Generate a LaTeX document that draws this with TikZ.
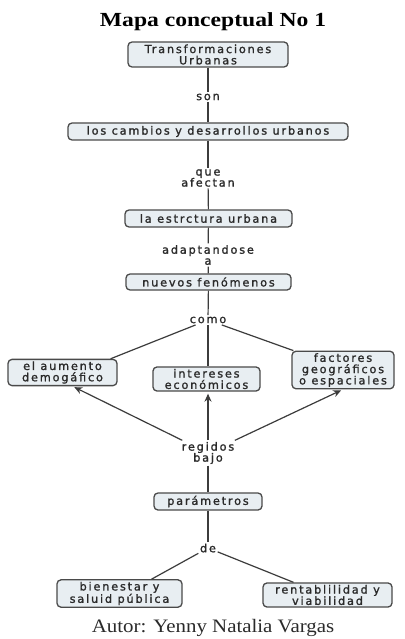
\documentclass[tikz,border=0pt]{standalone}
\usepackage{fontspec}
\usetikzlibrary{arrows.meta}
\newfontfamily\cmfont{DejaVu Sans}[LetterSpace=16,FakeBold=1.3]
\newfontfamily\titlefont{Liberation Serif}[FakeStretch=1.18]
\newfontfamily\autorfont{Liberation Serif}[FakeStretch=1.1]
\definecolor{boxfill}{HTML}{E8EEF2}
\definecolor{boxline}{HTML}{4A4A4A}
\definecolor{linkc}{HTML}{3C3C3C}
\definecolor{txt}{HTML}{2A2A2A}
\begin{document}
\begin{tikzpicture}[x=1pt,y=-1pt,
  concept/.style={draw=boxline, fill=boxfill, rounded corners=4pt, line width=1.3pt,
    inner xsep=0pt, inner ysep=2pt, align=center, font=\cmfont\fontsize{11.3}{11.3}\selectfont, text=txt},
  lbl/.style={inner sep=1.5pt, align=center, font=\cmfont\fontsize{11.3}{11}\selectfont, text=txt},
  link/.style={draw=linkc, line width=1.2pt},
  arr/.style={link, -{Stealth[length=8pt,width=7pt]}, shorten >=2pt}]
\useasboundingbox (0,0) rectangle (404,639);
\fill[white] (0,0) rectangle (404,639);

\node[font=\titlefont\bfseries\fontsize{20}{22}\selectfont] (title) at (213,22) {Mapa conceptual No 1};

\node[concept, minimum width=160pt, minimum height=25pt] (n1) at (208,54.5) {Transformaciones\\Urbanas};
\node[concept, minimum width=280pt, minimum height=17pt] (n2) at (208,131.5) {los cambios y desarrollos urbanos};
\node[concept, minimum width=167pt, minimum height=17pt] (n3) at (208.5,218.5) {la estrctura urbana};
\node[concept, minimum width=165pt, minimum height=16pt] (n4) at (208.5,282) {nuevos fenómenos};
\node[concept, minimum width=109pt, minimum height=25pt] (n5) at (62.5,372.5) {el aumento\\demogáfico};
\node[concept, minimum width=107pt, minimum height=24pt] (n6) at (206.5,379) {intereses\\económicos};
\node[concept, minimum width=102pt, minimum height=36pt] (n7) at (343,370) {factores\\geográficos\\o espaciales};
\node[concept, minimum width=108pt, minimum height=17pt] (n8) at (208,501.5) {parámetros};
\node[concept, minimum width=125pt, minimum height=24pt] (n9) at (119.5,593.5) {bienestar y\\saluid pública};
\node[concept, minimum width=129pt, minimum height=24pt] (n10) at (327.5,595) {rentablilidad y\\viabilidad};

\node[lbl] (son) at (208,97) {son};
\node[lbl] (que) at (208,178) {que\\afectan};
\node[lbl] (adapt) at (208,255) {adaptandose\\a};
\node[lbl] (como) at (208,320) {como};
\node[lbl] (reg) at (208,453) {regidos\\bajo};
\node[lbl] (de) at (208,548) {de};

\node[font=\autorfont\fontsize{19}{21}\selectfont, text=txt] (autor) at (213,628) {Autor: Yenny Natalia Vargas};

\draw[link] (n1) -- (son);
\draw[link] (son) -- (n2);
\draw[link] (n2) -- (que);
\draw[link] (que) -- (n3);
\draw[link] (n3) -- (adapt);
\draw[link] (adapt) -- (n4);
\draw[link] (n4) -- (como);
\draw[link] (como) -- ([xshift=-7pt]n5.north east);
\draw[link] (como) -- (como |- n6.north);
\draw[link] (como) -- ([xshift=2pt]n7.north west);
\draw[arr] (reg) -- ([xshift=10pt]n5.south);
\draw[arr] (reg) -- (reg |- n6.south);
\draw[arr] (reg) -- (n7.south);
\draw[link] (reg) -- (n8);
\draw[link] (n8) -- (de);
\draw[link] (de) -- ([xshift=32pt]n9.north);
\draw[link] (de) -- ([xshift=-34pt]n10.north);
\end{tikzpicture}
\end{document}
